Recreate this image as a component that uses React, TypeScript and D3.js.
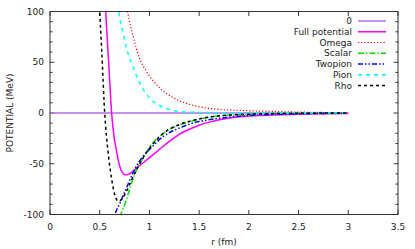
import React from "react";
import * as d3 from "d3";

// series (r in fm, V in MeV)
const zeroR = [0, 3];
const zeroV = [0, 0];

const fullR = [0.54, 0.56, 0.59, 0.62, 0.64, 0.67, 0.7, 0.73, 0.76, 0.8, 0.85, 0.9, 1.0, 1.1, 1.2, 1.3, 1.4, 1.5, 1.6, 1.8, 2.0, 2.25, 2.5, 2.75, 3.0];
const fullV = [135, 100, 50, 0, -20, -38, -52, -59, -61, -60, -56, -52, -44, -36, -28, -21, -16, -12, -9, -5, -3, -2, -1.2, -0.7, -0.4];

const omegaR = [0.74, 0.78, 0.84, 0.9, 0.97, 1.1, 1.24, 1.37, 1.57, 1.71, 2.0, 2.25, 2.5, 2.75, 3.0];
const omegaV = [125, 100, 74, 54, 41, 25, 15, 9.5, 5, 3.5, 2.2, 1.5, 0.9, 0.5, 0.3];

const scalarR = [0.66, 0.7, 0.77, 0.82, 0.87, 0.95, 1.0, 1.14, 1.31, 1.47, 1.61, 2.0, 2.5, 3.0];
const scalarV = [-113, -103, -85, -69, -56, -42, -34, -20, -11.5, -7, -4, -1.3, -0.4, -0.1];

const twopionR = [0.6, 0.636, 0.72, 0.79, 0.85, 0.94, 1.0, 1.14, 1.31, 1.47, 1.61, 2.0, 2.5, 3.0];
const twopionV = [-111, -103, -85, -69, -56, -42, -36, -23, -14.5, -9, -6.5, -2.5, -0.8, -0.3];

const pionR = [0.67, 0.69, 0.74, 0.77, 0.84, 0.9, 1.0, 1.1, 1.2, 1.3, 1.5, 1.75, 2.0, 2.5, 3.0];
const pionV = [115, 100, 77, 64, 44.5, 30, 15, 7.5, 3.4, 1.5, 0.5, 0.2, 0.1, 0, 0];

const rhoR = [0.48, 0.5, 0.52, 0.55, 0.585, 0.62, 0.65, 0.69, 0.72, 0.77, 0.82, 0.87, 0.95, 1.0, 1.14, 1.31, 1.47, 1.6, 2.0, 2.5, 3.0];
const rhoV = [140, 100, 62, 0, -39, -65, -80, -87, -85, -77, -66, -56, -42, -35, -20, -11, -6.5, -4, -1.2, -0.3, 0];

const xTicks = [0, 0.5, 1, 1.5, 2, 2.5, 3, 3.5];
const yTicks = [-100, -50, 0, 50, 100];
const yMinorTicks = [-90, -80, -70, -60, -40, -30, -20, -10, 10, 20, 30, 40, 60, 70, 80, 90];

const series = [
  { name: "0", r: zeroR, v: zeroV, color: "#b36be6", width: 1.5, dash: "" },
  { name: "Full potential", r: fullR, v: fullV, color: "#ff00ff", width: 1.5, dash: "" },
  { name: "Omega", r: omegaR, v: omegaV, color: "#ff0000", width: 1.2, dash: "1.2,2" },
  { name: "Scalar", r: scalarR, v: scalarV, color: "#00e000", width: 1.5, dash: "6,2,1.5,2" },
  { name: "Twopion", r: twopionR, v: twopionV, color: "#0000ff", width: 1.5, dash: "5,2,1.5,2,1.5,2" },
  { name: "Pion", r: pionR, v: pionV, color: "#00ffff", width: 1.5, dash: "4,4" },
  { name: "Rho", r: rhoR, v: rhoV, color: "#000000", width: 1.5, dash: "3,3" },
];

const left = 50;
const right = 398;
const top = 11.5;
const bottom = 214.5;
const font = "DejaVu Sans, sans-serif";

export default function App() {
  const x = d3.scaleLinear().domain([0, 3.5]).range([left, right]);
  const y = d3.scaleLinear().domain([-100, 100]).range([bottom, top]);
  const line = d3
    .line<[number, number]>()
    .x((d) => x(d[0]))
    .y((d) => y(d[1]))
    .curve(d3.curveMonotoneX);

  return (
    <svg
      width={415}
      height={249}
      style={{ position: "absolute", left: 0, top: 0, background: "#fff" }}
      fontFamily={font}
      fontSize={9}
    >
      <defs>
        <clipPath id="plot">
          <rect x={left} y={top} width={right - left} height={bottom - top} />
        </clipPath>
      </defs>

      {/* ticks */}
      {xTicks.map((t) => (
        <g key={"x" + t}>
          <line x1={x(t)} x2={x(t)} y1={bottom} y2={bottom - 4.5} stroke="#333" />
          <line x1={x(t)} x2={x(t)} y1={top} y2={top + 4.5} stroke="#333" />
          <text x={x(t)} y={230} textAnchor="middle" fill="#222">
            {t}
          </text>
        </g>
      ))}
      {yTicks.map((t) => (
        <g key={"y" + t}>
          <line x1={left} x2={left + 4.5} y1={y(t)} y2={y(t)} stroke="#333" />
          <line x1={right} x2={right - 4.5} y1={y(t)} y2={y(t)} stroke="#333" />
          <text x={44} y={y(t)} dy="0.35em" textAnchor="end" fill="#222">
            {t}
          </text>
        </g>
      ))}
      {yMinorTicks.map((t) => (
        <g key={"ym" + t}>
          <line x1={left} x2={left + 2.5} y1={y(t)} y2={y(t)} stroke="#333" />
          <line x1={right} x2={right - 2.5} y1={y(t)} y2={y(t)} stroke="#333" />
        </g>
      ))}

      {/* curves */}
      <g clipPath="url(#plot)">
        {series.map((s) => (
          <path
            key={s.name}
            d={line(s.r.map((r, i) => [r, s.v[i]] as [number, number])) || ""}
            fill="none"
            stroke={s.color}
            strokeWidth={s.width}
            strokeDasharray={s.dash}
          />
        ))}
      </g>

      {/* border */}
      <rect x={left} y={top} width={right - left} height={bottom - top} fill="none" stroke="#333" />

      {/* legend */}
      {series.map((s, i) => {
        const ly = 21 + i * 10.75;
        return (
          <g key={"lg" + s.name}>
            <text x={352} y={ly} dy="0.35em" textAnchor="end" fill="#222">
              {s.name}
            </text>
            <line x1={358} x2={386} y1={ly} y2={ly} stroke={s.color} strokeWidth={s.width} strokeDasharray={s.dash} />
          </g>
        );
      })}

      {/* axis labels */}
      <text x={(left + right) / 2} y={245} textAnchor="middle" fill="#222">
        r (fm)
      </text>
      <text
        transform={`translate(10, ${y(0)}) rotate(-90)`}
        textAnchor="middle"
        dy="0.35em"
        fill="#222"
      >
        POTENTIAL (MeV)
      </text>
    </svg>
  );
}
